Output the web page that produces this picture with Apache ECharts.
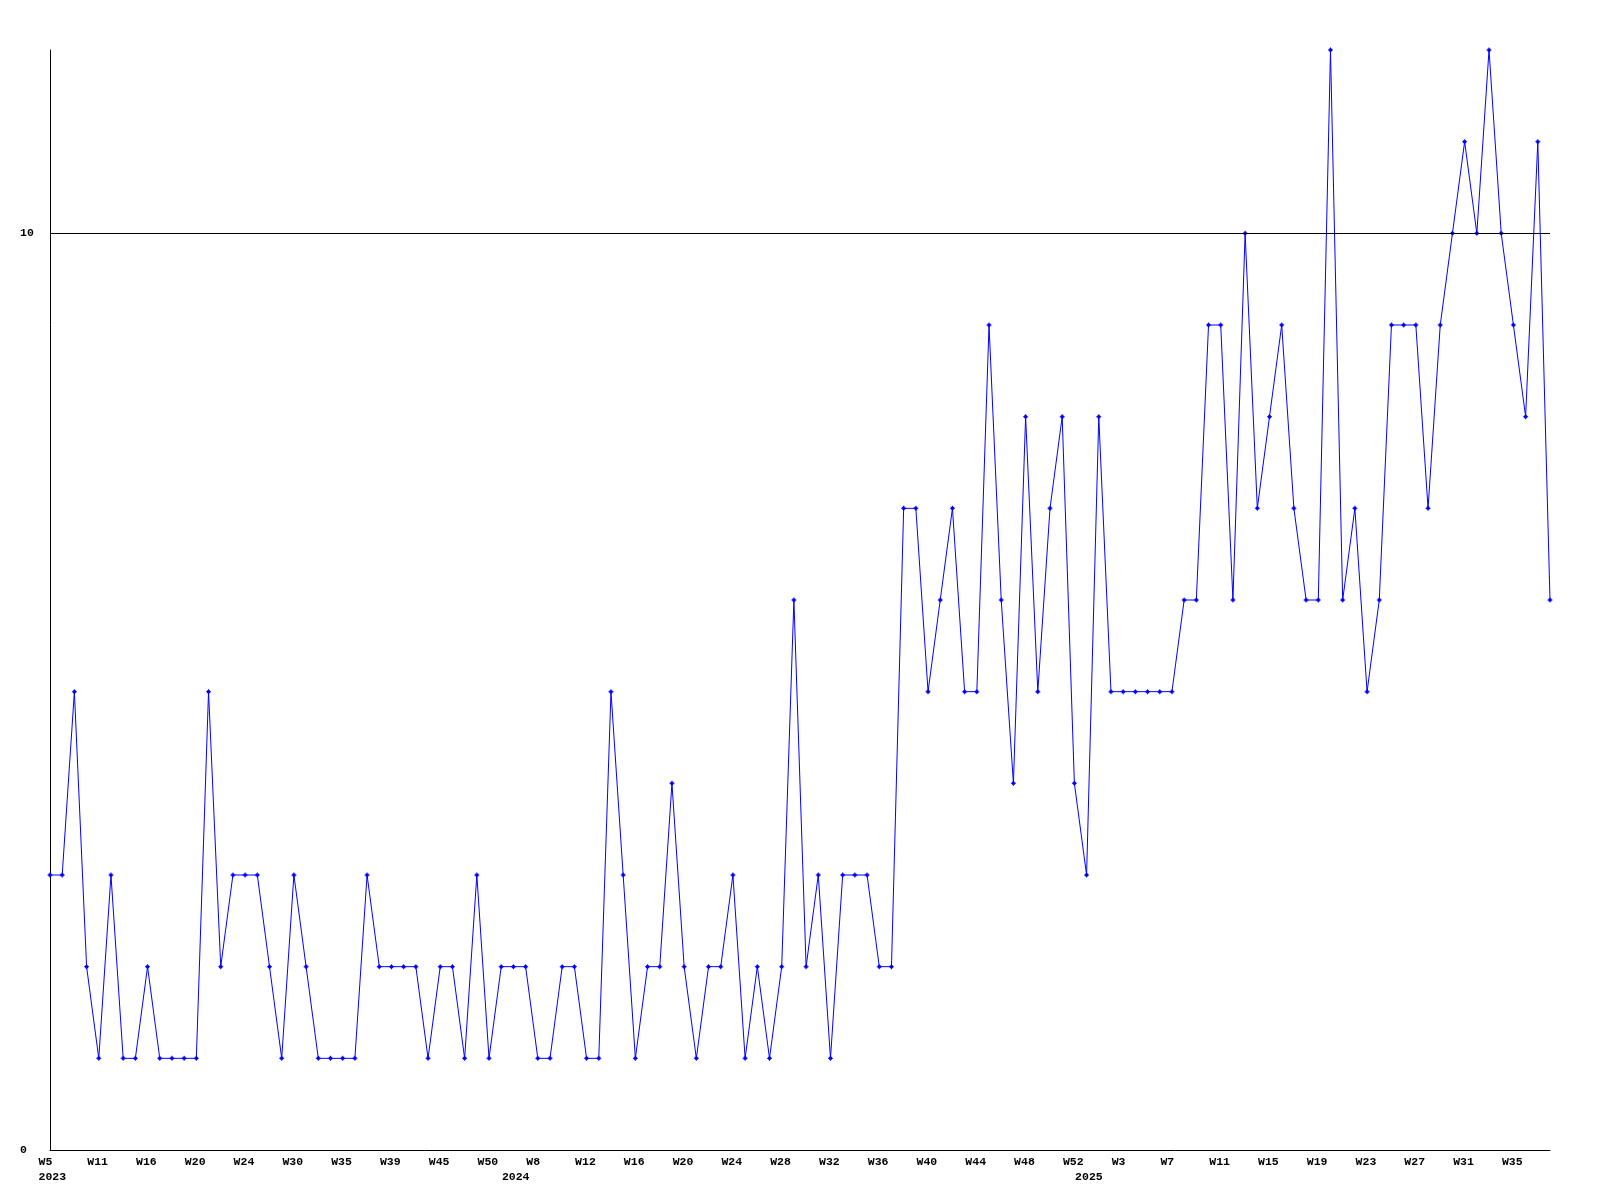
<!DOCTYPE html>
<html>
<head>
<meta charset="utf-8">
<script src="https://cdn.jsdelivr.net/npm/echarts@6/dist/echarts.min.js"></script>
<style>
html,body{margin:0;padding:0;background:#fff;}
#chart{width:1600px;height:1200px;}
</style>
</head>
<body>
<div id="chart"></div>
<script>
// Week categories per year (only every 4th is labelled on the axis)
const weeks2023 = ['W5','W6','W8','W9','W11','W12','W14','W15','W16','W17','W18','W19','W20','W21','W22','W23','W24','W26','W27','W29','W30','W31','W32','W34','W35','W36','W37','W38','W39','W41','W42','W44','W45','W46','W47','W49','W50','W52'];
const weeks2024 = ['W2','W5','W8','W9','W10','W11','W12','W13','W14','W15','W16','W17','W18','W19','W20','W21','W22','W23','W24','W25','W26','W27','W28','W29','W30','W31','W32','W33','W34','W35','W36','W37','W38','W39','W40','W41','W42','W43','W44','W45','W46','W47','W48','W49','W50','W51','W52'];
const weeks2025 = ['W0','W1','W2','W3','W4','W5','W6','W7','W8','W9','W10','W11','W12','W13','W14','W15','W16','W17','W18','W19','W20','W21','W22','W23','W24','W25','W26','W27','W28','W29','W30','W31','W32','W33','W34','W35','W36','W37','W38'];

const values = [
  3,3,5,2,1,3,1,1,2,1,
  1,1,1,5,2,3,3,3,2,1,
  3,2,1,1,1,1,3,2,2,2,
  2,1,2,2,1,3,1,2,2,2,
  1,1,2,2,1,1,5,3,1,2,
  2,4,2,1,2,2,3,1,2,1,
  2,6,2,3,1,3,3,3,2,2,
  7,7,5,6,7,5,5,9,6,4,
  8,5,7,8,4,3,8,5,5,5,
  5,5,5,6,6,9,9,6,10,7,
  8,9,7,6,6,12,6,7,5,6,
  9,9,9,7,9,10,11,10,12,10,
  9,8,11,6
];

const yTickLabels = ['0','10'];
const thresholdValue = 10;

const categories = []
  .concat(weeks2023.map(w => '2023-' + w))
  .concat(weeks2024.map(w => '2024-' + w))
  .concat(weeks2025.map(w => '2025-' + w));

const yearOf = i => categories[i].split('-')[0];
const isYearStart = i => i === 0 || yearOf(i) !== yearOf(i - 1);

const FONT = 'Liberation Mono';
const tokenStyle = {
  fontFamily: FONT,
  fontWeight: 'bold',
  fontSize: 11.5,
  color: '#000',
  width: 23,
  align: 'left',
  lineHeight: 15.5
};

const chart = echarts.init(document.getElementById('chart'), null, {renderer: 'canvas'});
chart.setOption({
  animation: false,
  backgroundColor: '#ffffff',
  grid: {left: 50, right: 50, top: 50, bottom: 50, containLabel: false},
  xAxis: [
    {
      type: 'category',
      data: categories,
      boundaryGap: false,
      axisLine: {show: true, lineStyle: {color: '#000', width: 1}},
      axisTick: {show: false},
      splitLine: {show: false},
      axisLabel: {
        interval: 3,
        margin: 4,
        align: 'center',
        formatter: v => '{w|' + v.split('-')[1] + '}',
        rich: {w: tokenStyle}
      }
    },
    {
      type: 'category',
      data: categories,
      boundaryGap: false,
      position: 'bottom',
      axisLine: {show: false},
      axisTick: {show: false},
      splitLine: {show: false},
      axisLabel: {
        interval: (i) => isYearStart(i),
        margin: 19.5,
        align: 'center',
        formatter: v => '{w|' + v.split('-')[0] + '}',
        rich: {w: tokenStyle}
      }
    }
  ],
  yAxis: {
    type: 'value',
    min: 0,
    max: 12,
    interval: 10,
    axisLine: {show: true, lineStyle: {color: '#000', width: 1}},
    axisTick: {show: false},
    splitLine: {show: false},
    axisLabel: {
      align: 'left',
      margin: 30,
      showMaxLabel: false,
      fontFamily: FONT,
      fontWeight: 'bold',
      fontSize: 11.5,
      color: '#000',
      formatter: v => (yTickLabels.indexOf(String(v)) >= 0 ? String(v) : '')
    }
  },
  series: [{
    type: 'line',
    xAxisIndex: 0,
    data: values,
    symbol: 'path://M2,0L3,0L3,1L4,1L4,2L5,2L5,3L4,3L4,4L3,4L3,5L2,5L2,4L1,4L1,3L0,3L0,2L1,2L1,1L2,1Z',
    symbolSize: 5,
    showAllSymbol: true,
    lineStyle: {color: '#0000ff', width: 1},
    itemStyle: {color: '#0000ff'},
    markLine: {
      silent: true,
      symbol: ['none', 'none'],
      label: {show: false},
      lineStyle: {color: '#000', width: 1, type: 'solid'},
      data: [{yAxis: thresholdValue}]
    }
  }]
});
</script>
</body>
</html>
